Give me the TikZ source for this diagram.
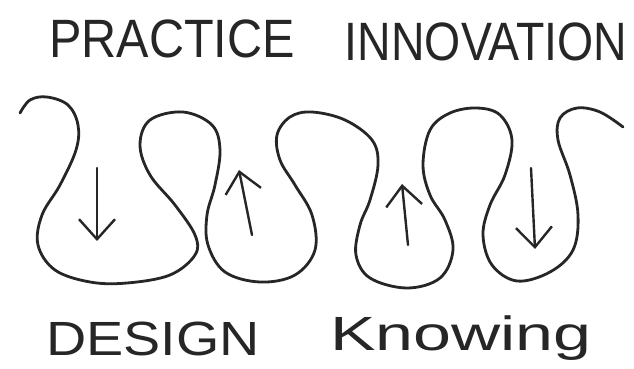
\documentclass[tikz,border=0pt]{standalone}
\usepackage{fontspec}
\setmainfont{Liberation Sans}
\usepackage{tikz}
\usetikzlibrary{arrows.meta}

\begin{document}
\begin{tikzpicture}[
  x=1pt, y=-1pt,
  wave/.style={line width=2.8pt, black!85, line cap=round, line join=round},
  flow/.style={-{Straight Barb[length=20pt, width=36pt, line width=2.4pt]}, line width=2.4pt, black!85, line cap=round},
  word/.style={font=\fontsize{54}{60}\selectfont, color=black!85, inner sep=0pt, anchor=base, transform shape}
]
\useasboundingbox (0,0) rectangle (634,368);

\node[word, xscale=0.9] (practice)   at (172, 57) {PRACTICE};
\node[word, xscale=0.86] (innovation) at (486, 60) {INNOVATION};
\node[word, font=\fontsize{48}{56}\selectfont, xscale=1.16] (design)  at (153, 355) {DESIGN};
\node[word, font=\fontsize{48}{56}\selectfont, xscale=1.42] (knowing) at (461, 350) {Knowing};

% the meander
\draw[wave] plot[smooth, tension=0.6] coordinates {
  (20,113) (30,100) (47,97) (68,105) (78,125) (76,150) (60,185) (42,215)
  (38,245) (55,270) (90,282) (127,283) (170,275) (195,255) (195,235)
  (175,205) (150,175) (140,145) (150,120) (183,112) (212,125) (220,150)
  (215,185) (207,215) (208,245) (225,272) (260,282) (295,275) (315,250)
  (312,215) (295,185) (280,160) (277,135) (290,117) (312,112) (345,120)
  (372,140) (378,165) (370,200) (360,225) (356,255) (370,278) (407,288)
  (440,278) (453,250) (445,220) (430,195) (423,165) (430,130) (450,113)
  (477,108) (500,115) (512,140) (505,175) (490,205) (483,235) (492,265)
  (517,281) (550,272) (573,250) (578,215) (570,175) (558,140) (560,118)
  (577,108) (600,112) (623,127)};

\coordinate (d1s) at (97,168);  \coordinate (d1e) at (97,241);
\coordinate (u1s) at (252,235); \coordinate (u1e) at (239,170);
\coordinate (u2s) at (408,245); \coordinate (u2e) at (402,184);
\coordinate (d2s) at (531,168); \coordinate (d2e) at (535,249);

\draw[flow] (d1s) -- (d1e);
\draw[flow] (u1s) -- (u1e);
\draw[flow] (u2s) -- (u2e);
\draw[flow] (d2s) -- (d2e);
\end{tikzpicture}
\end{document}
